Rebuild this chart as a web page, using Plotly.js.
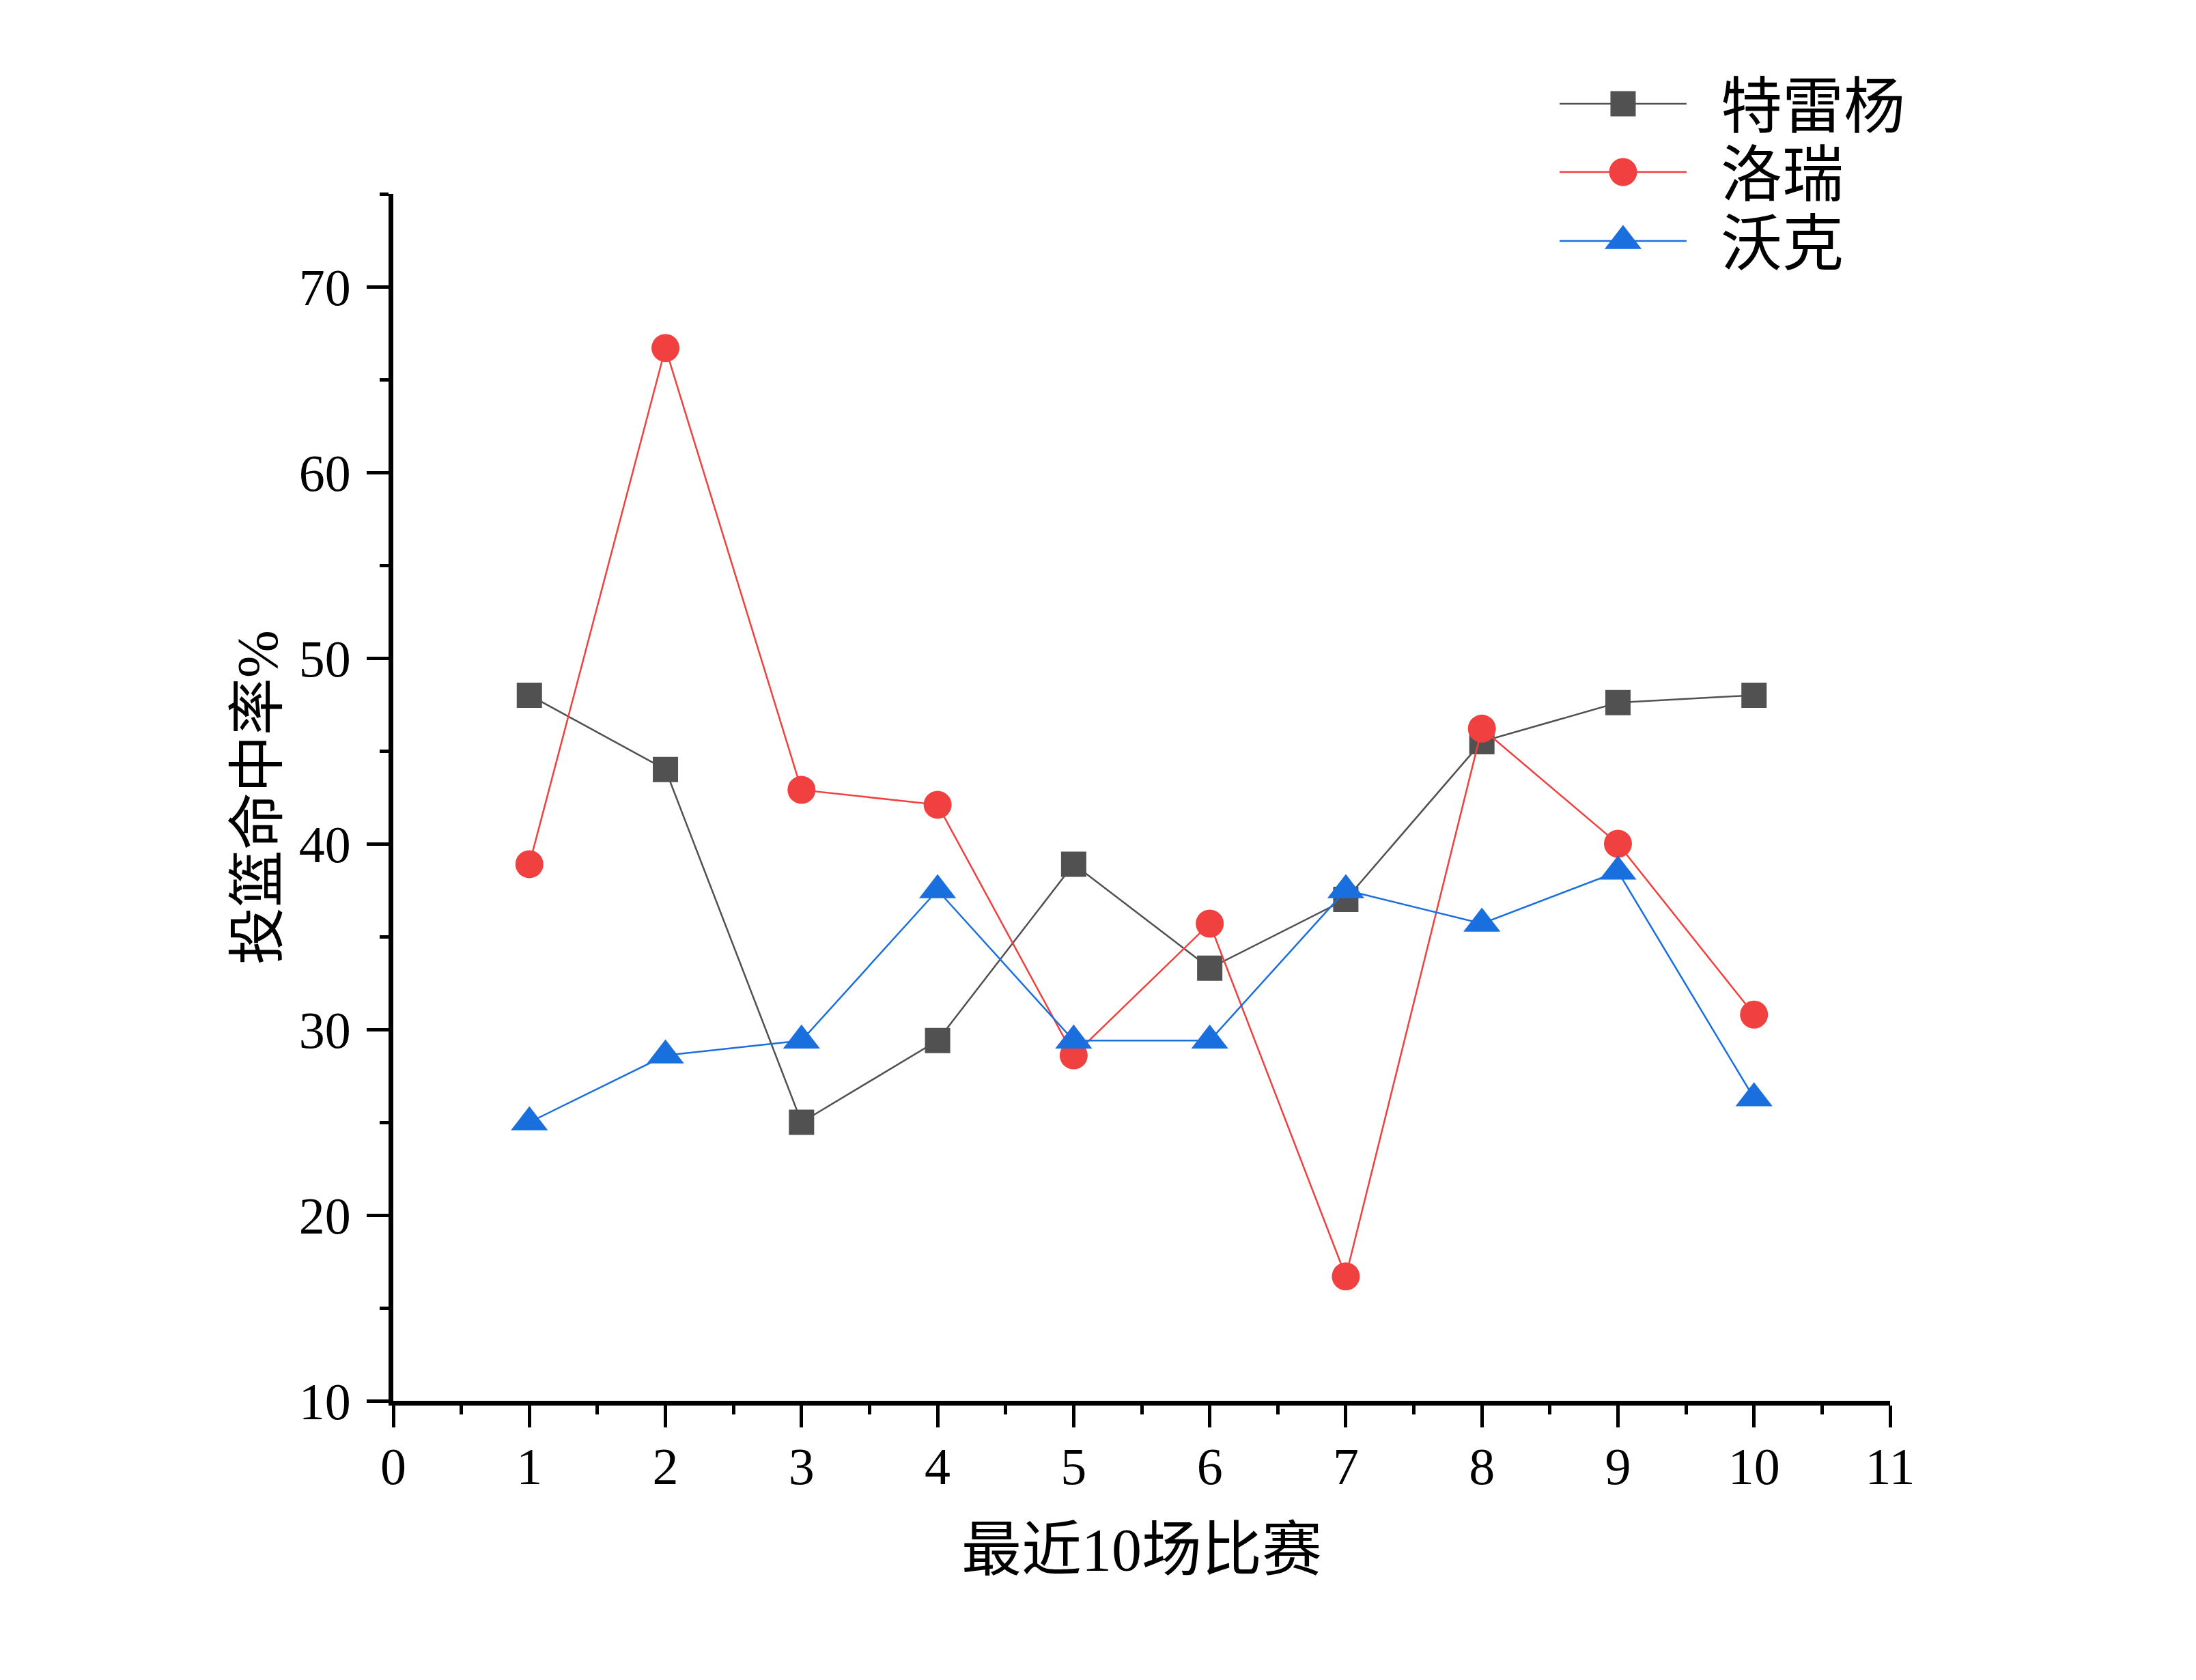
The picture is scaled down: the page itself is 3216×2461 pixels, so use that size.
<!DOCTYPE html>
<html>
<head>
<meta charset="utf-8">
<script src="https://cdn.plot.ly/plotly-3.0.1.min.js"></script>
<style>
  html, body { margin: 0; padding: 0; background: #ffffff; }
  #chart { width: 3216px; height: 2461px; }
</style>
</head>
<body>
<div id="chart"></div>
<script>
// ---- data ----
const games = [1, 2, 3, 4, 5, 6, 7, 8, 9, 10];
const seriesNames = ['特雷杨', '洛瑞', '沃克'];
const traeYoung = [48.0, 44.0, 25.0, 29.4, 38.9, 33.3, 37.0, 45.5, 47.6, 48.0];
const lowry     = [38.9, 66.7, 42.9, 42.1, 28.6, 35.7, 16.7, 46.2, 40.0, 30.8];
const walker    = [25.0, 28.6, 29.4, 37.5, 29.4, 29.4, 37.5, 35.7, 38.5, 26.3];
const xTickVals = [0, 1, 2, 3, 4, 5, 6, 7, 8, 9, 10, 11];
const yTickVals = [10, 20, 30, 40, 50, 60, 70];
const xTitle = '最近10场比赛';
const yTitle = '投篮命中率%';

// ---- styling ----
const colors = ['#515151', '#F14040', '#1A6FDF'];
const symbols = ['square', 'circle', 'triangle-up'];
const sizes = [37, 41, 47];
const values = [traeYoung, lowry, walker];
const legendIds = ['legend', 'legend2', 'legend3'];

const numFont = 'Liberation Serif, Times New Roman, serif';
const mixFont = 'Liberation Serif, Noto Sans CJK SC, serif';

// an en space gives the same gap between legend sample and label as the reference
const traces = values.map((v, i) => ({
  type: 'scatter',
  mode: 'lines+markers',
  x: games,
  y: v,
  name: '\u2002' + seriesNames[i],
  legend: legendIds[i],
  line: { color: colors[i], width: 2.5 },
  marker: { symbol: symbols[i], size: sizes[i], color: colors[i], line: { width: 0 } },
  cliponaxis: false
}));

const legendYs = [1.0747, 1.0181, 0.961];
const legendCommon = (y) => ({
  x: 0.7769, y: y, xanchor: 'left', yanchor: 'middle',
  bgcolor: 'rgba(0,0,0,0)', borderwidth: 0,
  itemwidth: 186,
  font: { family: mixFont, size: 90, color: '#000000' },
  itemclick: false, itemdoubleclick: false
});

const axisCommon = {
  showgrid: false, zeroline: false,
  showline: true, linecolor: '#000000', linewidth: 7,
  ticks: 'outside', ticklen: 32, tickwidth: 5, tickcolor: '#000000',
  tickfont: { family: numFont, size: 76, color: '#000000' },
  mirror: false
};

const layout = {
  width: 3216, height: 2461,
  paper_bgcolor: '#ffffff', plot_bgcolor: '#ffffff',
  margin: { l: 576, r: 448, t: 284, b: 409, pad: 0 },
  showlegend: true,
  legend: legendCommon(legendYs[0]),
  legend2: legendCommon(legendYs[1]),
  legend3: legendCommon(legendYs[2]),
  xaxis: Object.assign({}, axisCommon, {
    range: [0, 11],
    tickmode: 'array', tickvals: xTickVals, ticktext: xTickVals.map(String),
    minor: { dtick: 0.5, ticklen: 13, tickwidth: 5, tickcolor: '#000000', ticks: 'outside' },
    ticklabelstandoff: -8,
    title: { text: xTitle, font: { family: mixFont, size: 88, color: '#000000' }, standoff: 52 }
  }),
  yaxis: Object.assign({}, axisCommon, {
    range: [10, 75],
    tickmode: 'array', tickvals: yTickVals, ticktext: yTickVals.map(String),
    minor: { dtick: 5, ticklen: 13, tickwidth: 5, tickcolor: '#000000', ticks: 'outside' },
    ticklabelstandoff: 8,
    title: { text: yTitle, font: { family: mixFont, size: 84, color: '#000000' }, standoff: 6 }
  })
};

function enlargeLegendMarkers(gd) {
  // Plotly caps legend marker size at 16px: enlarge them to the plotted size.
  const colorToSize = {};
  gd.data.forEach(t => { colorToSize[t.marker.color.toLowerCase()] = t.marker.size; });
  gd.querySelectorAll('g.legendpoints path').forEach(p => {
    const fill = (p.style.fill || '').replace(/\s/g, '');
    let size = null;
    Object.keys(colorToSize).forEach(hex => {
      const r = parseInt(hex.slice(1, 3), 16), g = parseInt(hex.slice(3, 5), 16), b = parseInt(hex.slice(5, 7), 16);
      if (fill === 'rgb(' + r + ',' + g + ',' + b + ')') size = colorToSize[hex];
    });
    if (size && !p.dataset.scaled) {
      const t = p.getAttribute('transform') || '';
      p.setAttribute('transform', t + ' scale(' + (size / 16) + ')');
      p.dataset.scaled = '1';
    }
  });
}

Plotly.newPlot('chart', traces, layout, { displayModeBar: false, responsive: false }).then(gd => {
  enlargeLegendMarkers(gd);
});
</script>
</body>
</html>
